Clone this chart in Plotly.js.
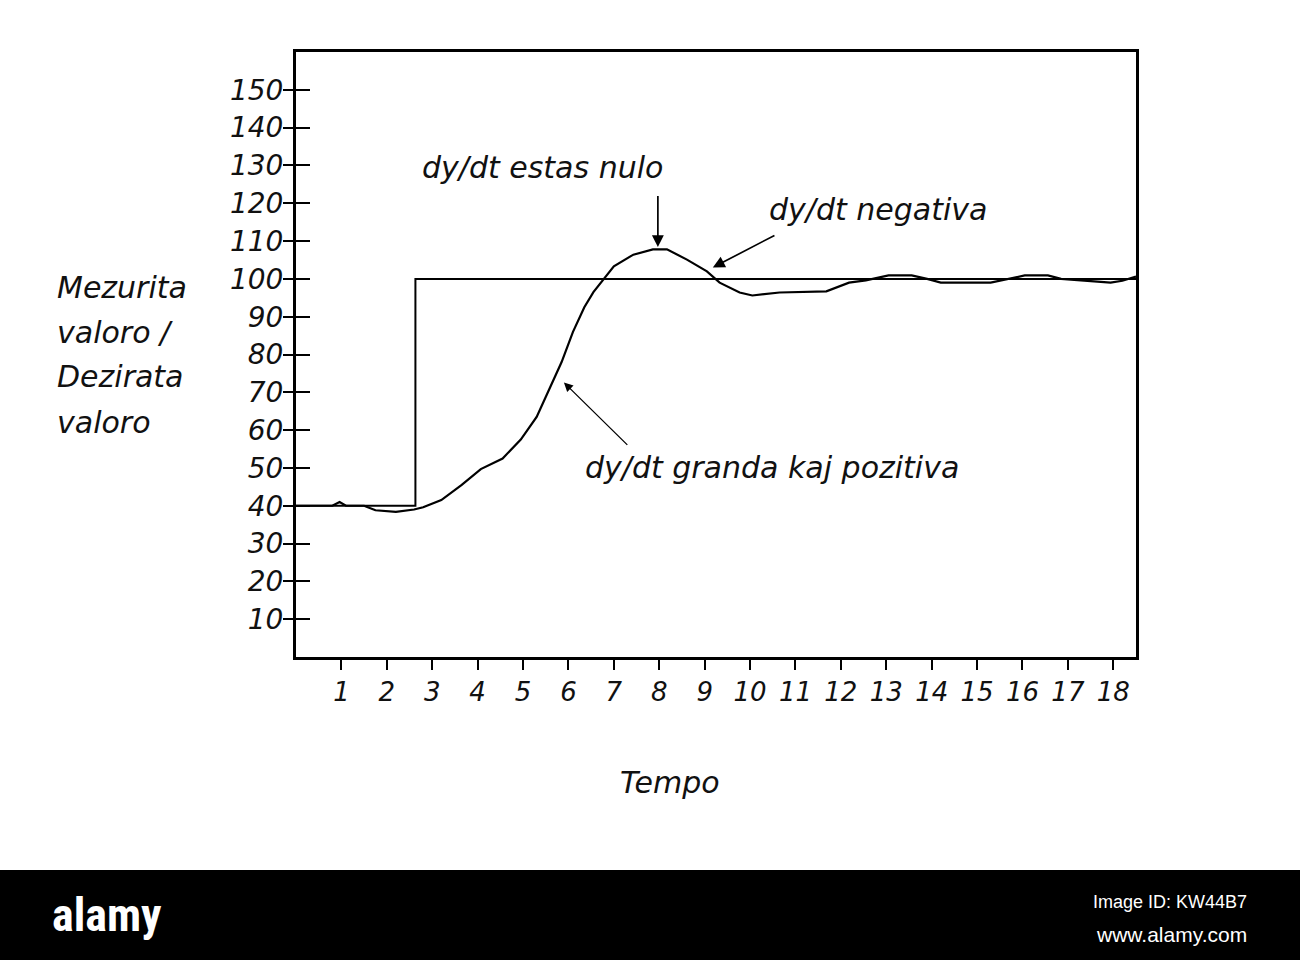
<!DOCTYPE html>
<html>
<head>
<meta charset="utf-8">
<script src="https://cdn.plot.ly/plotly-3.0.1.min.js"></script>
<style>html,body{margin:0;padding:0;background:#fff;}#chart{width:1300px;height:960px;}</style>
</head>
<body>
<div id="chart"></div>
<script>
// Measured value (Mezurita valoro)
const timeMeasured = [0, 0.8, 0.96, 1.1, 1.5, 1.75, 2.2, 2.6, 2.8, 3.2, 3.65, 4.07, 4.55, 4.95, 5.3, 5.55, 5.85, 6.1, 6.35, 6.55, 6.75, 7.0, 7.43, 7.86, 8.17, 8.61, 9.05, 9.33, 9.77, 10.05, 10.65, 11.68, 12.18, 12.55, 13.05, 13.56, 13.9, 14.2, 15.3, 15.7, 16.05, 16.56, 16.85, 17.94, 18.2, 18.5];
const valueMeasured = [40, 40, 41, 40, 40, 38.8, 38.4, 39, 39.6, 41.5, 45.5, 49.7, 52.5, 57.5, 63.5, 70, 78, 86, 92.5, 96.5, 99.5, 103.3, 106.4, 107.8, 107.8, 105.1, 102, 99, 96.4, 95.6, 96.4, 96.7, 99, 99.6, 100.9, 100.9, 100, 99, 99, 100, 100.9, 100.9, 100, 99, 99.5, 100.6];
// Desired value (Dezirata valoro) - step
const timeSetpoint = [0, 2.63, 2.63, 18.5];
const valueSetpoint = [40, 40, 100, 100];

const xTicks = [1,2,3,4,5,6,7,8,9,10,11,12,13,14,15,16,17,18];
const yTicks = [10,20,30,40,50,60,70,80,90,100,110,120,130,140,150];

const yTitleLines = ["Mezurita", "valoro /", "Dezirata", "valoro"];
const xTitle = "Tempo";

// annotation labels: text, text position, arrow tail, arrow tip
const noteTexts = ["dy/dt estas nulo", "dy/dt negativa", "dy/dt granda kaj pozitiva"];
const noteTextX = [5.42, 12.81, 10.48];
const noteTextY = [129.4, 118.3, 50.2];
const arrowTailX = [7.97, 10.57, 7.33];
const arrowTailY = [122.3, 111.7, 55.7];
const arrowTipX = [7.97, 9.18, 5.9];
const arrowTipY = [108.4, 103, 72.6];

const FONT = "DejaVu Sans, Verdana, sans-serif";

const traces = [
  {x: timeSetpoint, y: valueSetpoint, mode: 'lines', line: {color: '#000', width: 2}, hoverinfo: 'skip', showlegend: false},
  {x: timeMeasured, y: valueMeasured, mode: 'lines', line: {color: '#000', width: 2.2}, showlegend: false},
  {x: [0], y: [0], yaxis: 'y2', mode: 'markers', marker: {opacity: 0}, hoverinfo: 'skip', showlegend: false}
];

const annotations = [];
for (let i = 0; i < noteTexts.length; i++) {
  annotations.push({
    x: noteTextX[i], y: noteTextY[i], xref: 'x', yref: 'y', xanchor: 'center', yanchor: 'middle',
    text: noteTexts[i], showarrow: false,
    font: {family: FONT, size: 30, color: '#111', style: 'italic'}
  });
  annotations.push({
    x: arrowTipX[i], y: arrowTipY[i], xref: 'x', yref: 'y', ax: arrowTailX[i], ay: arrowTailY[i],
    axref: 'x', ayref: 'y', text: '', showarrow: true, arrowhead: 2, arrowsize: 1.4,
    arrowwidth: i === 2 ? 1.3 : 1.7, arrowcolor: '#000'
  });
}
const yTitleY = [0.61, 0.536, 0.463, 0.388];
yTitleLines.forEach((t, i) => {
  annotations.push({
    x: -0.2866, y: yTitleY[i], xref: 'paper', yref: 'paper', xanchor: 'left', yanchor: 'middle',
    text: t, showarrow: false, font: {family: FONT, size: 30, color: '#111', style: 'italic'}
  });
});
annotations.push({
  x: 0.4447, y: -0.208, xref: 'paper', yref: 'paper', xanchor: 'center', yanchor: 'middle',
  text: xTitle, showarrow: false,
  font: {family: FONT, size: 30, color: '#111', style: 'italic'}
});
// watermark band texts
annotations.push({
  x: -0.293, y: -0.426, xref: 'paper', yref: 'paper', xanchor: 'left', yanchor: 'middle',
  text: '<b>alamy</b>', showarrow: false,
  font: {family: 'Liberation Sans Narrow, Roboto Condensed, Liberation Sans, sans-serif', size: 46, color: '#fff'}
});
annotations.push({
  x: 1.134, y: -0.405, xref: 'paper', yref: 'paper', xanchor: 'right', yanchor: 'middle',
  text: 'Image ID: KW44B7', showarrow: false,
  font: {family: 'Liberation Sans Narrow, Liberation Sans, sans-serif', size: 18, color: '#fff'}
});
annotations.push({
  x: 1.134, y: -0.458, xref: 'paper', yref: 'paper', xanchor: 'right', yanchor: 'middle',
  text: 'www.alamy.com', showarrow: false,
  font: {family: 'Liberation Sans Narrow, Liberation Sans, sans-serif', size: 21, color: '#fff'}
});

const layout = {
  width: 1300, height: 960,
  margin: {l: 296, r: 164, t: 52, b: 303},
  paper_bgcolor: '#fff', plot_bgcolor: '#fff',
  showlegend: false,
  xaxis: {
    range: [0, 18.5], tickvals: xTicks, ticktext: xTicks.map(String),
    ticks: 'outside', ticklen: 10, tickwidth: 2, tickcolor: '#000',
    showline: true, linecolor: '#000', linewidth: 3, mirror: true,
    showgrid: false, zeroline: false,
    tickfont: {family: FONT, size: 26, color: '#111', style: 'italic'}
  },
  yaxis: {
    range: [0, 160], tickvals: yTicks, ticktext: yTicks.map(String),
    ticks: 'outside', ticklen: 10, tickwidth: 2, tickcolor: '#000',
    showline: true, linecolor: '#000', linewidth: 3, mirror: true,
    showgrid: false, zeroline: false, ticklabelstandoff: -6,
    tickfont: {family: FONT, size: 28, color: '#111', style: 'italic'}
  },
  yaxis2: {
    overlaying: 'y', side: 'left', range: [0, 160], tickvals: yTicks,
    ticks: 'inside', ticklen: 14, tickwidth: 2, tickcolor: '#000',
    showticklabels: false, showline: false, showgrid: false, zeroline: false
  },
  shapes: [{
    type: 'rect', xref: 'paper', yref: 'paper', x0: -0.36, x1: 1.2, y0: -0.352, y1: -0.51,
    fillcolor: '#000', line: {width: 0}, layer: 'above'
  }],
  annotations: annotations
};

Plotly.newPlot('chart', traces, layout, {displayModeBar: false, staticPlot: true});
</script>
</body>
</html>
